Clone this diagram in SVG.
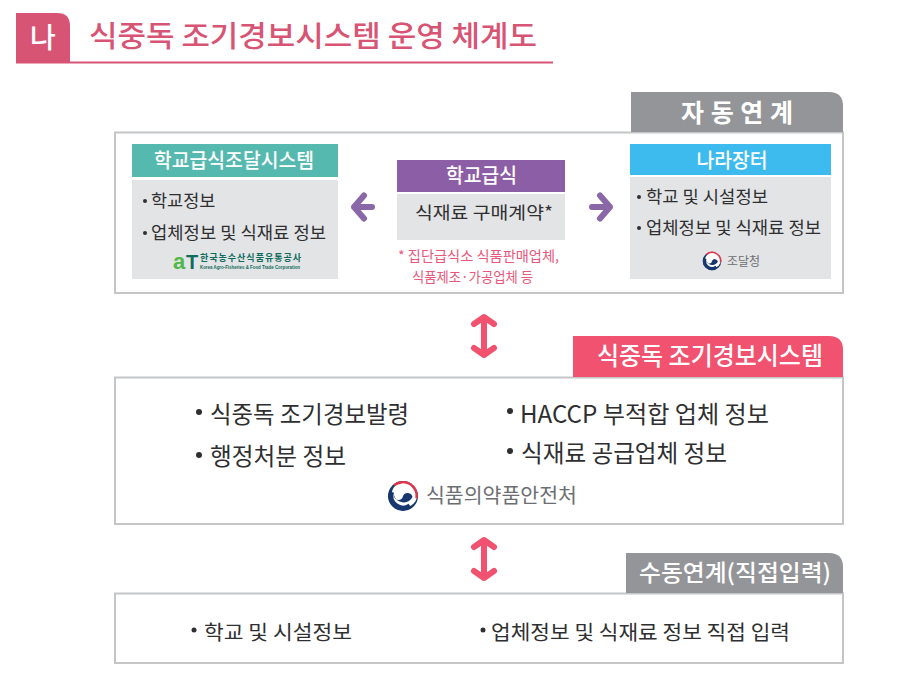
<svg xmlns="http://www.w3.org/2000/svg" width="904" height="689" viewBox="0 0 904 689">
<style>
text{font-family:"Noto Sans CJK KR","Noto Sans",sans-serif;}
.box{fill:#fff;stroke:#c4c5c7;stroke-width:2}
.tab{fill:#939598}
.tt{fill:#fff;font-size:25px;font-weight:500;text-anchor:middle}
.hd{fill:#fff;font-size:20px;font-weight:500;text-anchor:middle}
.panel{fill:#e3e4e6}
.dot{fill:#2f2f31}
.sm{fill:#2f2f31;font-size:17.5px}
.big{fill:#2f2f31;font-size:24px}
.mid{fill:#2f2f31;font-size:20px}
.pur{fill:none;stroke:#8a68a8;stroke-width:6;stroke-linecap:round;stroke-linejoin:round}
.pink{fill:none;stroke:#f1526f;stroke-width:6;stroke-linecap:round;stroke-linejoin:round}
.note{fill:#e8587c;font-size:14px}
</style>
<defs>
<g id="taegeuk">
<circle r="15" fill="#17376e"/>
<circle cx="1.500" cy="-1.500" r="12.800" fill="#fff"/>
<path d="M-8.900 -10.600A13.800 13.800 0 0 1 13.600 2.400" fill="none" stroke="#e0324b" stroke-width="2.400"/>
<path d="M-11.300 -4A12 12 0 0 0 7 9.700" fill="none" stroke="#17376e" stroke-width="5"/>
<path d="M-9 -1A4.500 4.500 0 0 0 0 0A5 5 0 0 1 9.500 1A10 10 0 0 1 -9 -1Z" fill="#17376e"/>
</g>
</defs>
<rect width="904" height="689" fill="#fff"/>
<g id="title">
<path d="M16 13H57Q70 13 70 26V63H16Z" fill="#d85474"/>
<rect x="16" y="61.500" width="537" height="2" fill="#d85474"/>
<text x="43" y="48" fill="#fff" font-size="28" font-weight="500" text-anchor="middle">나</text>
<text x="89" y="47" fill="#d85474" font-size="29" font-weight="500" textLength="448" lengthAdjust="spacingAndGlyphs">식중독 조기경보시스템 운영 체계도</text>
</g>
<g id="auto-link">
<rect class="box" x="115" y="132.500" width="728" height="160.500"/>
<path class="tab" d="M631 92H829Q843 92 843 106V132H631Z"/>
<text class="tt" x="737" y="122" style="font-weight:700" textLength="112">자 동 연 계</text>
</g>
<g id="school-procurement">
<rect x="132" y="144" width="206" height="33" fill="#55b9b0"/>
<rect class="panel" x="132" y="180" width="206" height="99"/>
<text class="hd" x="234" y="168" textLength="160" lengthAdjust="spacingAndGlyphs">학교급식조달시스템</text>
<circle class="dot" cx="145" cy="201" r="2"/>
<text class="sm" x="151" y="207">학교정보</text>
<circle class="dot" cx="145" cy="233" r="2"/>
<text class="sm" x="151" y="239" textLength="175" lengthAdjust="spacingAndGlyphs">업체정보 및 식재료 정보</text>
<text x="173" y="269" fill="#4fb848" font-size="22" font-weight="700" style="font-family:'Liberation Sans',sans-serif">a</text>
<text x="186" y="269" fill="#0f6b5c" font-size="20" font-weight="700" style="font-family:'Liberation Sans',sans-serif">T</text>
<text x="200" y="261" fill="#0f6b5c" font-size="9" font-weight="700" textLength="101" lengthAdjust="spacing">한국농수산식품유통공사</text>
<text x="200" y="269" fill="#0f6b5c" font-size="5" font-weight="700" textLength="100" lengthAdjust="spacingAndGlyphs" style="font-family:'Liberation Sans',sans-serif">Korea Agro-Fisheries &amp; Food Trade Corporation</text>
</g>
<g id="school-meal">
<rect x="397" y="160" width="168" height="32" fill="#8b5ea6"/>
<rect class="panel" x="397" y="194" width="168" height="46"/>
<text class="hd" x="481.500" y="183" textLength="71" lengthAdjust="spacingAndGlyphs">학교급식</text>
<text class="sm" x="415" y="219" textLength="138" lengthAdjust="spacingAndGlyphs">식재료 구매계약*</text>
<text class="note" x="398" y="261" textLength="161" lengthAdjust="spacingAndGlyphs">* 집단급식소 식품판매업체,</text>
<text class="note" x="412" y="282" textLength="121" lengthAdjust="spacingAndGlyphs">식품제조·가공업체 등</text>
</g>
<g id="nara-market">
<rect x="630" y="144" width="201" height="31" fill="#3dbbee"/>
<rect class="panel" x="630" y="177" width="201" height="102"/>
<text class="hd" x="732" y="168" textLength="71" lengthAdjust="spacingAndGlyphs">나라장터</text>
<circle class="dot" cx="639" cy="197" r="2"/>
<text class="sm" x="646" y="203" textLength="122" lengthAdjust="spacingAndGlyphs">학교 및 시설정보</text>
<circle class="dot" cx="639" cy="228" r="2"/>
<text class="sm" x="646" y="234" textLength="175" lengthAdjust="spacingAndGlyphs">업체정보 및 식재료 정보</text>
<use href="#taegeuk" transform="translate(712 261) scale(.62)"/>
<text x="727" y="266" fill="#6d6e71" font-size="12.500" textLength="33" lengthAdjust="spacingAndGlyphs">조달청</text>
</g>
<g id="early-warning">
<rect class="box" x="115" y="377.500" width="728" height="146.500"/>
<path d="M573 336H829Q843 336 843 350V377H573Z" fill="#f1526f"/>
<text class="tt" x="710" y="365" textLength="226" lengthAdjust="spacingAndGlyphs">식중독 조기경보시스템</text>
<circle class="dot" cx="199" cy="412" r="3"/>
<text class="big" x="210" y="423" textLength="199" lengthAdjust="spacingAndGlyphs">식중독 조기경보발령</text>
<circle class="dot" cx="199" cy="455" r="3"/>
<text class="big" x="210" y="465" textLength="136" lengthAdjust="spacingAndGlyphs">행정처분 정보</text>
<circle class="dot" cx="510" cy="411" r="3"/>
<text class="big" x="520" y="423" textLength="249" lengthAdjust="spacingAndGlyphs">HACCP 부적합 업체 정보</text>
<circle class="dot" cx="510" cy="451" r="3"/>
<text class="big" x="521" y="462" textLength="206" lengthAdjust="spacingAndGlyphs">식재료 공급업체 정보</text>
<use href="#taegeuk" transform="translate(403 496)"/>
<text x="426" y="503" fill="#6d6e71" font-size="20" textLength="151" lengthAdjust="spacingAndGlyphs">식품의약품안전처</text>
</g>
<g id="manual-link">
<rect class="box" x="115" y="593.500" width="728" height="69.500"/>
<path class="tab" d="M626 553H829Q843 553 843 567V593H626Z"/>
<text class="tt" x="735" y="581" style="font-size:23px" textLength="192" lengthAdjust="spacingAndGlyphs">수동연계(직접입력)</text>
<circle class="dot" cx="194" cy="630" r="2.500"/>
<text class="mid" x="204" y="640" textLength="148" lengthAdjust="spacingAndGlyphs">학교 및 시설정보</text>
<circle class="dot" cx="483" cy="630" r="2.500"/>
<text class="mid" x="491" y="640" textLength="299" lengthAdjust="spacingAndGlyphs">업체정보 및 식재료 정보 직접 입력</text>
</g>
<g id="connectors">
<path class="pur" d="M354 207H372M364 195.500L354 207L364 218.500"/>
<path class="pur" d="M592 207H610M600 195.500L610 207L600 218.500"/>
<path class="pink" d="M484 318V355M474 324L484 317L494 324M474 348L484 355L494 348"/>
<path class="pink" d="M484 541V578M474 547L484 540L494 547M474 571L484 578L494 571"/>
</g>
</svg>
